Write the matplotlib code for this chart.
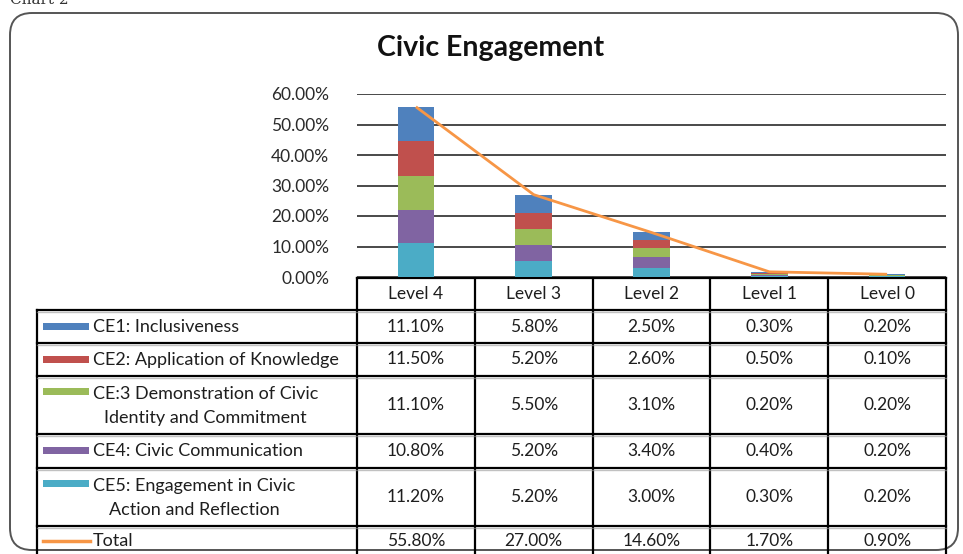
import numpy as np
import matplotlib
matplotlib.use("Agg")
import matplotlib.pyplot as plt
from matplotlib.patches import FancyBboxPatch, Rectangle

# %% Data

levels = ["Level 4", "Level 3", "Level 2", "Level 1", "Level 0"]
ce1 = [11.10, 5.80, 2.50, 0.30, 0.20]
ce2 = [11.50, 5.20, 2.60, 0.50, 0.10]
ce3 = [11.10, 5.50, 3.10, 0.20, 0.20]
ce4 = [10.80, 5.20, 3.40, 0.40, 0.20]
ce5 = [11.20, 5.20, 3.00, 0.30, 0.20]
total = [55.80, 27.00, 14.60, 1.70, 0.90]

series_names = ["CE1: Inclusiveness",
                "CE2: Application of Knowledge",
                "CE:3 Demonstration of Civic\nIdentity and Commitment",
                "CE4: Civic Communication",
                "CE5: Engagement in Civic\nAction and Reflection"]
series_vals = [ce1, ce2, ce3, ce4, ce5]
series_cols = ["#4F81BD", "#C0504D", "#9BBB59", "#8064A2", "#4BACC6"]
line_col = "#F79646"

yticks = [0, 10, 20, 30, 40, 50, 60]

# %% Figure

plt.rcParams['font.family'] = ['Lato', 'DejaVu Sans']
W, H = 963, 554
fig = plt.figure(figsize=(W / 100, H / 100), dpi=100)

def px_axes(x0, y0, x1, y1):
    # pixel box (top-left origin) -> figure axes
    return fig.add_axes([x0 / W, 1 - y1 / H, (x1 - x0) / W, (y1 - y0) / H])

# overlay for frame / table (pixel coordinates)
ov = fig.add_axes([0, 0, 1, 1])
ov.set_xlim(0, W)
ov.set_ylim(H, 0)
ov.axis('off')

frame = FancyBboxPatch((10, 13), 948, 537, boxstyle="round,pad=0,rounding_size=22",
                       fc="white", ec="#555555", lw=1.4, zorder=0)
ov.add_patch(frame)
ov.text(10, 4, "Chart 2", family="DejaVu Serif", fontsize=11, color="#333333",
        ha="left", va="baseline")

# %% Chart area

x0, x1, ytop, ybot = 357, 946, 94, 277
ax = px_axes(x0, ytop, x1, ybot)
x = np.arange(len(levels))
bottom = np.zeros(len(levels))
# stacked from CE5 at bottom to CE1 on top
for vals, col in zip(series_vals[::-1], series_cols[::-1]):
    ax.bar(x, vals, width=0.31, bottom=bottom, color=col, zorder=3)
    bottom += np.array(vals)
ax.plot(x, total, color=line_col, lw=2.0, zorder=4, solid_capstyle='butt')

ax.set_xlim(-0.5, len(levels) - 0.5)
ax.set_ylim(0, 60)
ax.set_yticks(yticks)
ax.set_yticklabels(["%.2f%%" % v for v in yticks], fontsize=12.5, color="#2a2a2a")
ax.tick_params(axis='y', length=0, pad=20)
ax.set_xticks([])
ax.grid(axis='y', color="#3a3a3a", lw=1.3, zorder=0)
for s in ["left", "right", "top", "bottom"]:
    ax.spines[s].set_visible(False)
ax.patch.set_alpha(0)

ov.text(491, 48, "Civic Engagement", fontsize=20.5, fontweight="bold",
        ha="center", va="center", color="#111111")

# %% Data table

col_edges = np.linspace(x0, x1, len(levels) + 1)
row_edges = [278, 310, 343, 376, 434, 468, 526, 560]
tab_left = 37
txt_col = "#1e1e1e"
lw_tab = 1.6

ov.plot([x0, x1], [row_edges[0], row_edges[0]], color="black", lw=lw_tab)
for cx in col_edges:
    ov.plot([cx, cx], [row_edges[0], H], color="black", lw=lw_tab)
ov.plot([tab_left, tab_left], [row_edges[1], H], color="black", lw=lw_tab)
for ry in row_edges[1:-1]:
    ov.plot([tab_left, x1], [ry, ry], color="black", lw=lw_tab)
    ov.plot([tab_left, x1], [ry + 1.8, ry + 1.8], color="#999999", lw=1.0, alpha=0.6)

# header row
for i, lab in enumerate(levels):
    ov.text((col_edges[i] + col_edges[i + 1]) / 2, (row_edges[0] + row_edges[1]) / 2,
            lab, fontsize=12.5, ha="center", va="center", color=txt_col)

rows = list(zip(series_names, series_vals, series_cols)) + [("Total", total, line_col)]
for r, (name, vals, col) in enumerate(rows):
    yc = (row_edges[r + 1] + row_edges[r + 2]) / 2
    if r == len(rows) - 1:
        yc = 541
    if name == "Total":
        ov.plot([43, 90], [yc, yc], color=col, lw=2.5)
    else:
        ytop_key = yc - 4 if "\n" not in name else row_edges[r + 1] + 12
        ov.add_patch(Rectangle((43, ytop_key), 46, 7, color=col, lw=0))
    ov.text(93, yc + (1 if "\n" in name else 0), name, fontsize=13, ha="left",
            va="center", color=txt_col, multialignment="center", linespacing=1.6)
    for i, v in enumerate(vals):
        ov.text((col_edges[i] + col_edges[i + 1]) / 2, yc, "%.2f%%" % v,
                fontsize=12.5, ha="center", va="center", color=txt_col)

fig.savefig("out.png", dpi=100)
